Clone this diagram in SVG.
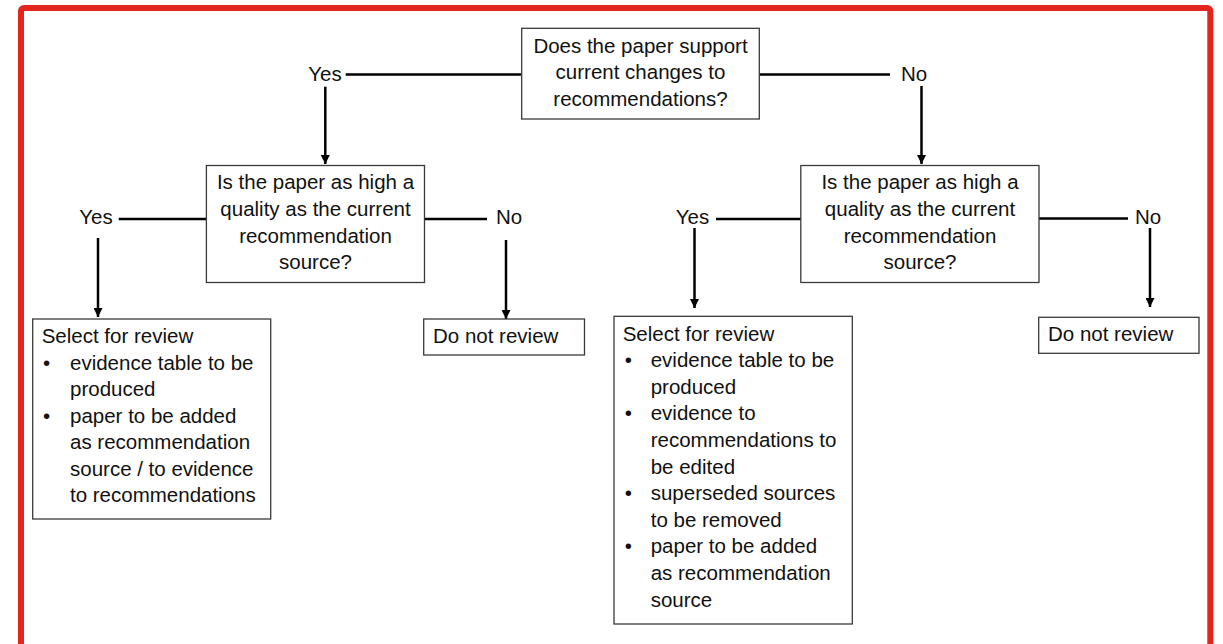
<svg xmlns="http://www.w3.org/2000/svg" width="1223" height="644" viewBox="0 0 1223 644">
<style>
text{font-family:"Liberation Sans",Arial,sans-serif;font-size:20.5px;fill:#111}
.c{text-anchor:middle}
.box{fill:#fff;stroke:#3a3a3a;stroke-width:1.3}
.ln{stroke:#000;stroke-width:2.5;fill:none}
.ar{stroke:#000;stroke-width:2.5;fill:none;marker-end:url(#ah)}
</style>
<defs>
<marker id="ah" viewBox="0 0 10 10" refX="10" refY="5" markerWidth="9" markerHeight="9" markerUnits="userSpaceOnUse" orient="auto">
<path d="M0,0 L10,5 L0,10 z" fill="#000"/>
</marker>
</defs>
<rect x="0" y="0" width="1223" height="644" fill="#fff"/>
<rect id="frame" x="21" y="8" width="1189.3" height="660" rx="3" fill="#fff" stroke="#e2261e" stroke-width="6"/>
<g id="connectors">
<line class="ln" x1="345.7" y1="74.5" x2="521.7" y2="74.5"/>
<line class="ln" x1="759" y1="74.5" x2="890" y2="74.5"/>
<line class="ar" x1="325.3" y1="86.7" x2="325.3" y2="164"/>
<line class="ar" x1="921.5" y1="86" x2="921.5" y2="164"/>
<line class="ln" x1="118.7" y1="219" x2="207" y2="219"/>
<line class="ln" x1="425" y1="219" x2="487" y2="219"/>
<line class="ar" x1="98" y1="238" x2="98" y2="317"/>
<line class="ar" x1="506" y1="240" x2="506" y2="319"/>
<line class="ln" x1="716" y1="219" x2="801" y2="219"/>
<line class="ln" x1="1039" y1="218.5" x2="1128" y2="218.5"/>
<line class="ar" x1="694.5" y1="228" x2="694.5" y2="308"/>
<line class="ar" x1="1150" y1="228" x2="1150" y2="307"/>
<text class="c" x="325" y="80.7">Yes</text>
<text class="c" x="914" y="80.5">No</text>
<text class="c" x="96" y="224.3">Yes</text>
<text class="c" x="509" y="224.3">No</text>
<text class="c" x="692.5" y="224.3">Yes</text>
<text class="c" x="1148" y="224.3">No</text>
</g>
<g id="q1">
<rect class="box" x="521.7" y="28.3" width="237.6" height="90.7"/>
<text class="c" x="640.5" y="52.5">Does the paper support</text>
<text class="c" x="640.5" y="79.1">current changes to</text>
<text class="c" x="640.5" y="105.7">recommendations?</text>
</g>
<g id="q2">
<rect class="box" x="206.4" y="165.5" width="218.1" height="117"/>
<text class="c" x="315.5" y="189.3">Is the paper as high a</text>
<text class="c" x="315.5" y="215.9">quality as the current</text>
<text class="c" x="315.5" y="242.5">recommendation</text>
<text class="c" x="315.5" y="269.1">source?</text>
</g>
<g id="q3">
<rect class="box" x="800.8" y="165.5" width="238.2" height="117"/>
<text class="c" x="920" y="189.3">Is the paper as high a</text>
<text class="c" x="920" y="215.9">quality as the current</text>
<text class="c" x="920" y="242.5">recommendation</text>
<text class="c" x="920" y="269.1">source?</text>
</g>
<g id="sel1">
<rect class="box" x="32.7" y="319" width="238" height="200"/>
<text x="41.7" y="343">Select for review</text>
<text x="43" y="369.5">•</text>
<text x="70" y="369.5">evidence table to be</text>
<text x="70" y="396">produced</text>
<text x="43" y="422.5">•</text>
<text x="70" y="422.5">paper to be added</text>
<text x="70" y="449">as recommendation</text>
<text x="70" y="475.5">source / to evidence</text>
<text x="70" y="502">to recommendations</text>
</g>
<g id="dnr1">
<rect class="box" x="423.7" y="319" width="160.8" height="36"/>
<text x="433" y="342.7">Do not review</text>
</g>
<g id="sel2">
<rect class="box" x="614" y="316.3" width="238.3" height="307.7"/>
<text x="622.7" y="340.5">Select for review</text>
<text x="624.7" y="367.1">•</text>
<text x="650.7" y="367.1">evidence table to be</text>
<text x="650.7" y="393.7">produced</text>
<text x="624.7" y="420.3">•</text>
<text x="650.7" y="420.3">evidence to</text>
<text x="650.7" y="446.9">recommendations to</text>
<text x="650.7" y="473.5">be edited</text>
<text x="624.7" y="500.1">•</text>
<text x="650.7" y="500.1">superseded sources</text>
<text x="650.7" y="526.7">to be removed</text>
<text x="624.7" y="553.3">•</text>
<text x="650.7" y="553.3">paper to be added</text>
<text x="650.7" y="579.9">as recommendation</text>
<text x="650.7" y="606.5">source</text>
</g>
<g id="dnr2">
<rect class="box" x="1038.7" y="317.3" width="160.3" height="36"/>
<text x="1048" y="340.5">Do not review</text>
</g>
</svg>
